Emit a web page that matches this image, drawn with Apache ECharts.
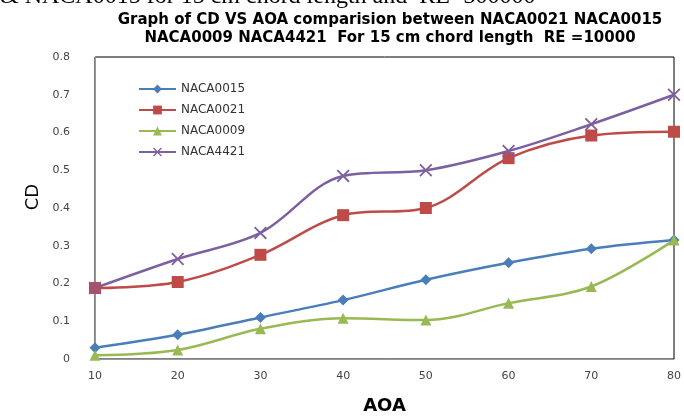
<!DOCTYPE html>
<html><head><meta charset="utf-8">
<script src="https://cdn.jsdelivr.net/npm/echarts@6/dist/echarts.min.js"></script>
<style>html,body{margin:0;padding:0;background:#fff}#c{width:684px;height:416px}</style>
</head><body><div id="c"></div>
<script>
const categories = ['10','20','30','40','50','60','70','80'];
const naca0015 = [0.030, 0.064, 0.110, 0.156, 0.210, 0.255, 0.292, 0.315];
const naca0021 = [0.188, 0.204, 0.276, 0.381, 0.400, 0.532, 0.592, 0.602];
const naca0009 = [0.010, 0.024, 0.080, 0.108, 0.103, 0.148, 0.192, 0.315];
const naca4421 = [0.188, 0.265, 0.334, 0.485, 0.500, 0.551, 0.622, 0.700];
const yTicks = [0, 0.1, 0.2, 0.3, 0.4, 0.5, 0.6, 0.7, 0.8];

const crossPath = 'path://M0,1 L1,0 L10,9 L9,10 Z M9,0 L10,1 L1,10 L0,9 Z';
const chart = echarts.init(document.getElementById('c'));
const mk = (name, data, color, symbol, size) => ({
  name, type: 'line', data, smooth: 0.35, symbol, symbolSize: size,
  lineStyle: {color, width: 2.5}, itemStyle: {color}, z: 3
});
chart.setOption({
  animation: false,
  textStyle: {fontFamily: 'DejaVu Sans'},
  title: [{
    text: 'Graph of CD VS AOA comparision between NACA0021 NACA0015\nNACA0009 NACA4421  For 15 cm chord length  RE =10000',
    left: 385, top: 6, textAlign: 'center',
    textStyle: {fontSize: 15, fontWeight: 'bold', color: '#000', lineHeight: 18, fontFamily: 'DejaVu Sans'}
  }],
  graphic: [{
    type: 'text', left: 0, top: -15,
    style: {text: '& NACA0015 for 15 cm chord length and  RE=300000', font: '24px "Liberation Serif"', fill: '#000'}
  }, {
    type: 'text', x: 33, y: 197, rotation: Math.PI / 2,
    style: {text: 'CD', font: '18px "DejaVu Sans"', fill: '#000', align: 'center', verticalAlign: 'middle'}
  }],
  legend: {
    orient: 'vertical', left: 133, top: 78, itemGap: 9, itemWidth: 37, itemHeight: 11,
    textStyle: {fontSize: 12, color: '#333', fontFamily: 'DejaVu Sans'},
    data: ['NACA0015','NACA0021','NACA0009','NACA4421']
  },
  grid: {left: 95, right: 10, top: 57, bottom: 57, show: true, borderColor: '#000', borderWidth: 1,
         containLabel: false, outerBoundsMode: 'none'},
  xAxis: {
    type: 'category', data: categories, boundaryGap: false,
    name: 'AOA', nameLocation: 'middle', nameGap: 38,
    nameTextStyle: {fontSize: 18, fontWeight: 'bold', color: '#000'},
    axisLine: {lineStyle: {color: '#999', width: 1}}, axisTick: {show: false},
    axisLabel: {color: '#444', fontSize: 11, margin: 12}, splitLine: {show: false}
  },
  yAxis: {
    type: 'value', min: 0, max: 0.8, interval: 0.1,
    axisLine: {show: true, lineStyle: {color: '#999', width: 1}}, axisTick: {show: false},
    axisLabel: {color: '#444', fontSize: 11, margin: 25, formatter: v => {
      const t = yTicks.find(x => Math.abs(x - v) < 1e-6); return t === undefined ? '' : String(t);
    }},
    splitLine: {show: false}
  },
  series: [
    mk('NACA0015', naca0015, '#4A7EBB', 'diamond', 11),
    mk('NACA0021', naca0021, '#BE4B48', 'rect', 12),
    mk('NACA0009', naca0009, '#98B954', 'triangle', 11),
    mk('NACA4421', naca4421, '#7D60A0', crossPath, 13)
  ]
});
</script></body></html>
